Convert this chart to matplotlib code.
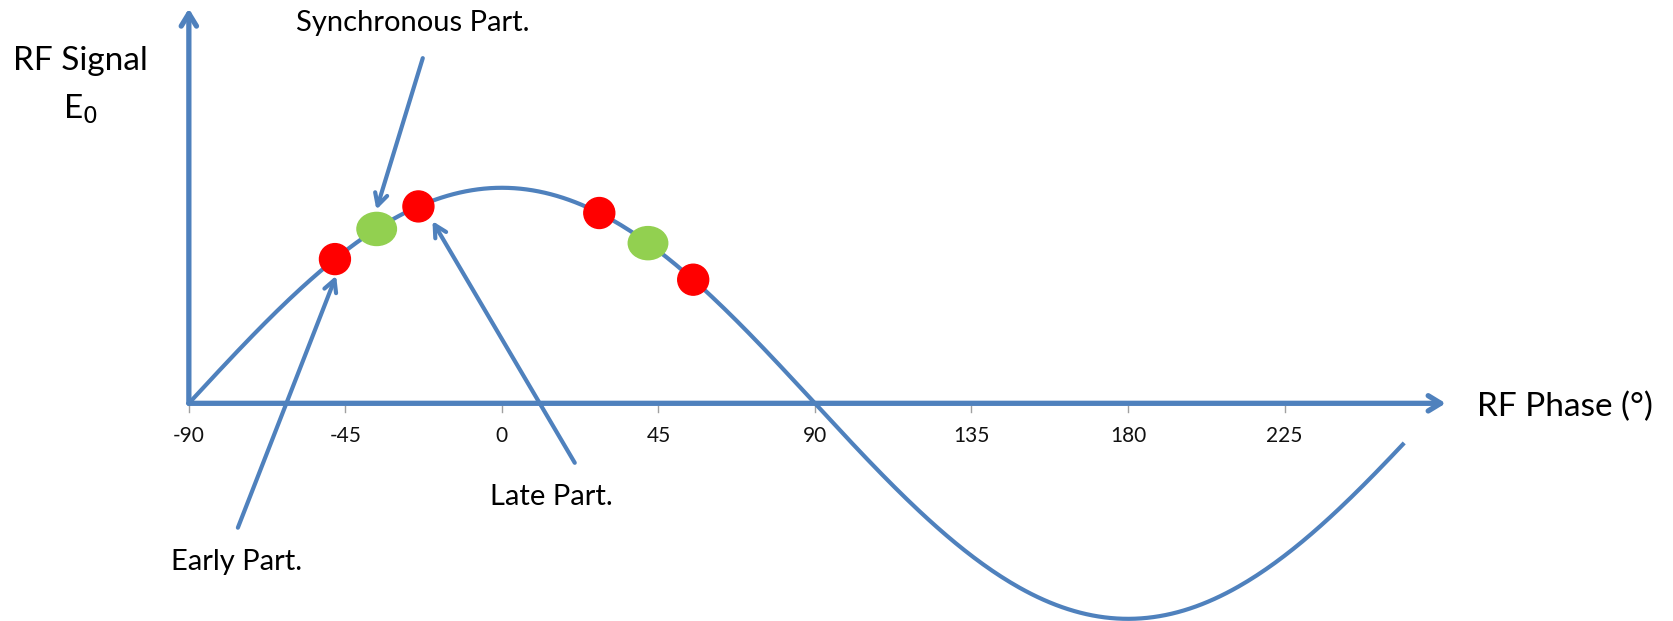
import numpy as np
import matplotlib
matplotlib.use('Agg')
import matplotlib.pyplot as plt
from matplotlib.patches import Ellipse

plt.rcParams['font.family'] = ['Lato', 'DejaVu Sans']

# data
tick_phases = [-90, -45, 0, 45, 90, 135, 180, 225]
phase_start = -90
phase_end = 259
amplitude = 1.0
red_phases = [-48, -24, 28, 55]
green_phases = [-36, 42]

blue = '#4F81BD'
red = '#FF0000'
green = '#92D050'

fig = plt.figure(figsize=(16.73, 6.21), dpi=100)
ax = fig.add_axes([0, 0, 1, 1])
# layout measured on a 1568 px wide copy, so scale up
s = 1673 / 1568
x0, y0 = 177 * s, 378 * s        # origin in pixels
px_deg = 3.26 * s
px_amp = 202.0 * s
ax.set_xlim(-90 - x0 / px_deg, -90 + (1673 - x0) / px_deg)
ax.set_ylim(-(621 - y0) / px_amp, y0 / px_amp)
ax.axis('off')

def pt(x, y):
    return (-90 + (x * s - x0) / px_deg, (y0 - y * s) / px_amp)

# curve
phase = np.linspace(phase_start, phase_end, 400)
ax.plot(phase, amplitude * np.cos(np.radians(phase)), color=blue, lw=3.0, zorder=2)

# axes with arrows
axarr = dict(arrowstyle='->,head_length=0.9,head_width=0.55', color=blue, lw=3.8,
             shrinkA=0, shrinkB=0, capstyle='round', joinstyle='round')
ax.annotate('', xy=pt(1355, 378), xytext=(-90, 0), arrowprops=axarr)
ax.annotate('', xy=pt(177, 8), xytext=(-90, 0), arrowprops=axarr)

# ticks
for t in tick_phases:
    ax.plot([t, t], [-3 / px_amp, -9 / px_amp], color='#A0A0A0', lw=1, zorder=1)
    ax.text(t, -31 * s / px_amp, str(t), ha='center', va='center', fontsize=15, color='#111111')

# markers
for p in red_phases:
    ax.add_patch(Ellipse((p, np.cos(np.radians(p))), 29 * s / px_deg, 29 * s / px_amp,
                         color=red, zorder=4))
for p in green_phases:
    ax.add_patch(Ellipse((p, np.cos(np.radians(p))), 37 * s / px_deg, 31 * s / px_amp,
                         color=green, zorder=4))

arr = dict(arrowstyle='->,head_length=0.85,head_width=0.45', color=blue, lw=3.0,
           capstyle='round', joinstyle='round')
ax.annotate('', xy=pt(352, 199), xytext=pt(397, 52), arrowprops=arr)
ax.annotate('', xy=pt(404, 205), xytext=pt(540, 436), arrowprops=arr)
ax.annotate('', xy=pt(316, 256), xytext=pt(222, 497), arrowprops=arr)

ax.text(*pt(387, 22), 'Synchronous Part.', ha='center', va='center', fontsize=21)
ax.text(*pt(517, 466), 'Late Part.', ha='center', va='center', fontsize=21)
ax.text(*pt(222, 527), 'Early Part.', ha='center', va='center', fontsize=21)
ax.text(*pt(75, 57), 'RF Signal', ha='center', va='center', fontsize=24)
ax.text(*pt(75, 102), r'E$_0$', ha='center', va='center', fontsize=24)
ax.text(*pt(1467, 381), 'RF Phase (°)', ha='center', va='center', fontsize=24)

fig.savefig('out.png', dpi=100)
